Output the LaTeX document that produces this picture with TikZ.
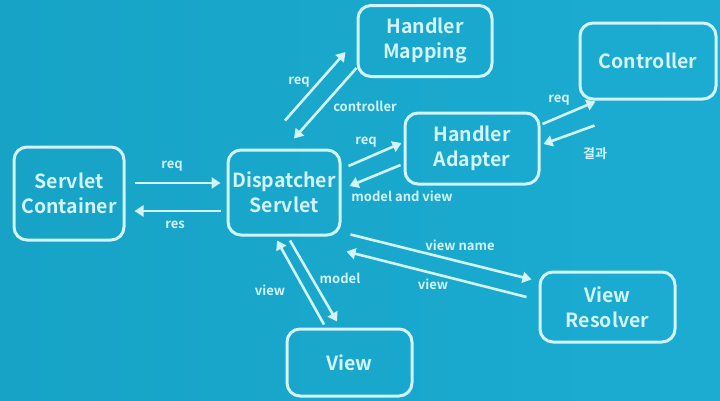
\documentclass[tikz,border=0pt]{standalone}
\usepackage{fontspec}
\setmainfont{Noto Sans CJK KR}[BoldFont={Noto Sans CJK KR Bold}]
\usetikzlibrary{arrows.meta,calc}
\definecolor{bgL}{RGB}{22,163,198}
\definecolor{bgR}{RGB}{28,172,210}
\definecolor{fg}{RGB}{210,244,250}
\begin{document}
\begin{tikzpicture}[x=1pt,y=-1pt,
 box/.style={draw=fg, line width=3pt, rounded corners=13pt, text=fg,
   font=\bfseries\fontsize{19.5}{25}\selectfont, align=center, inner sep=0pt},
 conn/.style={draw=fg, line width=2.6pt, -{Triangle[length=9pt,width=11pt]}},
 lbl/.style={text=fg, font=\bfseries\fontsize{13}{15}\selectfont, inner sep=0pt}]
\shade[left color=bgL, right color=bgR] (0,0) rectangle (720,400);
\useasboundingbox (0,0) rectangle (720,400);

\node[box, minimum width=110pt, minimum height=93pt] (sc) at (69,193.5) {Servlet\\Container};
\node[box, minimum width=112pt, minimum height=85pt] (ds) at (284,192.5) {Dispatcher\\Servlet};
\node[box, minimum width=134pt, minimum height=71pt] (hm) at (425,41) {Handler\\Mapping};
\node[box, minimum width=136pt, minimum height=76pt] (ct) at (648,61) {Controller};
\node[box, minimum width=134pt, minimum height=71pt] (ha) at (472,148.5) {Handler\\Adapter};
\node[box, minimum width=125pt, minimum height=67pt] (vw) at (349.5,362.5) {View};
\node[box, minimum width=135pt, minimum height=70pt] (vr) at (607.5,307) {View\\Resolver};

\draw[conn] ($(sc.east)+(9,-10.5)$) -- ($(ds.west)+(-6,-9.5)$);
\draw[conn] ($(ds.west)+(-6,18.5)$) -- ($(sc.east)+(9,17.5)$);
\draw[conn] ($(ds.north)+(1,-28)$) -- ($(hm.west)+(-11,11)$);
\draw[conn] ($(hm.west)+(0,27)$) -- ($(ds.north)+(10,-10)$);
\draw[conn] ($(ds.east)+(7,-26.5)$) -- ($(ha.west)+(-2,-5.5)$);
\draw[conn] ($(ha.west)+(-3,16.5)$) -- ($(ds.east)+(8,-6.5)$);
\draw[conn] ($(ha.east)+(2,-24.5)$) -- ($(ct.south west)+(17,1)$);
\draw[conn] ($(ct.south west)+(16,25)$) -- ($(ha.east)+(3,-4.5)$);
\draw[conn] ($(ds.south east)+(9,-2)$) -- ($(vr.north west)+(-7,9)$);
\draw[conn] ($(vr.west)+(-12,-10)$) -- ($(ds.south east)+(5,15)$);
\draw[conn] ($(vw.north)+(-25.5,-3)$) -- ($(ds.south)+(-7,4)$);
\draw[conn] ($(ds.south)+(6,4)$) -- ($(vw.north)+(-12.5,-6)$);

\node[lbl] (l1) at (172,166) {req};
\node[lbl] (l2) at (175,225) {res};
\node[lbl] (l3) at (299,82) {req};
\node[lbl] (l4) at (365,106) {controller};
\node[lbl] (l5) at (366,142) {req};
\node[lbl] (l6) at (402,196) {model and view};
\node[lbl] (l7) at (559,100) {req};
\node[lbl] (l8) at (595,154) {결과};
\node[lbl] (l9) at (460,245) {view name};
\node[lbl] (l10) at (433,284) {view};
\node[lbl] (l11) at (270,290) {view};
\node[lbl] (l12) at (340,278) {model};
\end{tikzpicture}
\end{document}
